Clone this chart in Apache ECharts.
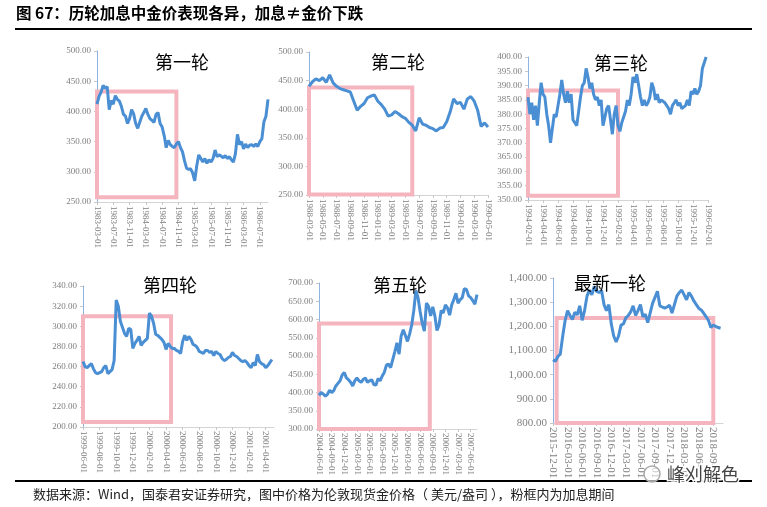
<!DOCTYPE html>
<html><head><meta charset="utf-8">
<script src="https://cdn.jsdelivr.net/npm/echarts@6/dist/echarts.min.js"></script>
<style>html,body{margin:0;padding:0;background:#fff}#c{width:767px;height:507px}</style>
</head><body><div id="c"></div>
<script>
// ---------- tick labels (x = months since first label) ----------
const ticks1 = ['1983-03-01','1983-07-01','1983-11-01','1984-03-01','1984-07-01','1984-11-01','1985-03-01','1985-07-01','1985-11-01','1986-03-01','1986-07-01'];
const ticks2 = ['1988-03-01','1988-05-01','1988-07-01','1988-09-01','1988-11-01','1989-01-01','1989-03-01','1989-05-01','1989-07-01','1989-09-01','1989-11-01','1990-01-01','1990-03-01','1990-05-01'];
const ticks3 = ['1994-02-01','1994-04-01','1994-06-01','1994-08-01','1994-10-01','1994-12-01','1995-02-01','1995-04-01','1995-06-01','1995-08-01','1995-10-01','1995-12-01','1996-02-01'];
const ticks4 = ['1999-06-01','1999-08-01','1999-10-01','1999-12-01','2000-02-01','2000-04-01','2000-06-01','2000-08-01','2000-10-01','2000-12-01','2001-02-01','2001-04-01'];
const ticks5 = ['2004-06-01','2004-09-01','2004-12-01','2005-03-01','2005-06-01','2005-09-01','2005-12-01','2006-03-01','2006-06-01','2006-09-01','2006-12-01','2007-03-01','2007-06-01'];
const ticks6 = ['2015-12-01','2016-03-01','2016-06-01','2016-09-01','2016-12-01','2017-03-01','2017-06-01','2017-09-01','2017-12-01','2018-03-01','2018-06-01','2018-09-01'];
const tickMonths = [4, 2, 2, 2, 3, 3];

// ---------- gold price (USD/oz), sampled every `step` months ----------
const step1 = 0.5;
const gold1 = [412,425,432,443,438,441,403,418,412,426,420,417,408,395,392,380,388,403,396,380,372,382,392,398,405,395,388,385,382,395,398,380,374,360,340,352,345,342,340,346,350,340,333,318,306,304,305,298,285,310,328,322,316,322,314,320,316,322,336,325,328,326,323,327,322,325,320,316,330,362,345,350,338,346,340,344,345,342,346,342,350,355,383,392,420];
const step2 = 0.5;
const gold2 = [440,448,453,450,455,447,460,446,440,436,434,432,430,414,398,405,410,420,423,425,414,408,400,388,390,396,392,387,384,377,372,362,385,374,372,368,366,362,367,368,378,395,418,410,412,400,418,422,414,398,370,376,369];
const step3 = 0.25;
const gold3 = [386,380,384,378,383,376,384,391,387,386,380,376,370,375,380,379,383,387,392,387,384,388,384,387,378,377,376,381,386,390,391,396,393,389,391,387,385,386,383,385,376,379,382,383,378,373,380,383,376,374,377,379,381,385,383,387,393,391,394,390,386,383,385,383,384,386,391,389,385,387,384,385,385,384,383,382,380,383,384,385,383,384,382,382,383,385,383,388,387,389,387,388,390,396,398,400];
const step4 = 0.25;
const gold4 = [265,260,259,261,263,258,254,253,254,255,259,261,253,255,257,266,326,320,305,299,293,290,298,297,278,283,286,290,281,284,286,288,313,310,303,292,291,289,287,284,277,283,280,278,278,276,275,273,285,291,286,290,287,282,281,279,275,274,273,276,276,274,275,271,275,273,272,268,266,267,269,270,274,271,270,268,266,265,266,264,261,259,264,261,272,265,263,262,259,261,264,267];
const step5 = 0.5;
const gold5 = [392,400,396,390,395,406,400,405,418,425,432,448,455,440,435,428,418,432,440,432,428,436,440,428,432,435,422,420,438,432,445,455,475,478,468,490,512,536,505,555,572,556,540,560,585,625,680,660,622,590,568,645,636,610,635,610,570,585,625,618,640,632,612,640,655,672,645,654,660,685,682,665,660,652,642,668];
const step6 = 0.5;
const gold6 = [1062,1055,1075,1085,1160,1225,1265,1245,1228,1258,1248,1285,1225,1265,1325,1350,1330,1365,1345,1340,1348,1290,1265,1290,1210,1160,1135,1160,1205,1210,1235,1245,1260,1285,1245,1265,1290,1240,1250,1215,1255,1295,1320,1345,1285,1280,1275,1280,1288,1255,1290,1325,1340,1350,1330,1310,1340,1325,1305,1290,1275,1268,1255,1240,1225,1195,1205,1200,1195,1192];

// ---------- rate-hike windows [startMonth, endMonth, low, high] ----------
const hike1 = [0, 19.5, 258, 433];
const hike2 = [0, 15, 251, 438];
const hike3 = [0, 12, 351.5, 388.3];
const hike4 = [0, 10.6, 205, 310];
const hike5 = [0, 26.3, 300, 589];
const hike6 = [0.75, 33, 800, 1235];

// ---------- y-axis ranges [min, max, interval] ----------
const yr1 = [250, 500, 50], yr2 = [250, 500, 50], yr3 = [350, 400, 5];
const yr4 = [200, 340, 20], yr5 = [300, 700, 50], yr6 = [800, 1400, 100];

const panelTitles = ['第一轮','第二轮','第三轮','第四轮','第五轮','最新一轮'];

// ---------- layout ----------
const layout = [
  {left:97, top:51, width:171, height:151, xmax:42, fs:9, tx:182, ty:62},
  {left:309, top:52, width:179, height:143, xmax:26, fs:9, tx:398, ty:62},
  {left:528, top:57, width:180, height:143, xmax:24, fs:9, tx:621, ty:63},
  {left:83, top:286, width:191, height:141, xmax:23, fs:9, tx:170, ty:285},
  {left:319, top:283, width:158, height:146, xmax:37.5, fs:9, tx:400, ty:285},
  {left:553, top:278, width:170, height:145, xmax:35, fs:11, tx:610, ty:283}
];

const ticksAll = [ticks1, ticks2, ticks3, ticks4, ticks5, ticks6];
const goldAll = [gold1, gold2, gold3, gold4, gold5, gold6];
const stepAll = [step1, step2, step3, step4, step5, step6];
const hikeAll = [hike1, hike2, hike3, hike4, hike5, hike6];
const yrAll = [yr1, yr2, yr3, yr4, yr5, yr6];

const LINE = '#4a8ed3', PINK = '#f5b5bf', LABEL = '#7f7f7f';
const grid = [], xAxis = [], yAxis = [], series = [], graphic = [];

layout.forEach((L, i) => {
  const tk = ticksAll[i], tm = tickMonths[i];
  const tickVals = tk.map((_, k) => k * tm);
  grid.push({left: L.left, top: L.top, width: L.width, height: L.height, containLabel: false, outerBoundsMode: 'none'});
  xAxis.push({
    type: 'value', gridIndex: i, min: 0, max: L.xmax, interval: tm,
    splitLine: {show: false},
    axisLine: {show: true, lineStyle: {color: '#d4d4d4', width: 1}},
    axisTick: {show: true, length: 3, customValues: tickVals, lineStyle: {color: '#c8c8c8'}},
    axisLabel: {
      show: true, rotate: -90, margin: 4, customValues: tickVals,
      fontFamily: 'Liberation Serif', fontSize: L.fs, color: LABEL,
      formatter: v => tk[Math.round(v / tm)] || ''
    }
  });
  const yr = yrAll[i];
  yAxis.push({
    type: 'value', gridIndex: i, min: yr[0], max: yr[1], interval: yr[2],
    splitLine: {show: false},
    axisLine: {show: true, lineStyle: {color: '#8fb3df', width: 1}},
    axisTick: {show: true, length: 3, lineStyle: {color: '#c8c8c8'}},
    axisLabel: {
      margin: 6, fontFamily: 'Liberation Serif', fontSize: L.fs, color: LABEL,
      formatter: v => v.toLocaleString('en-US', {minimumFractionDigits: 2, maximumFractionDigits: 2})
    }
  });
  const h = hikeAll[i];
  series.push({
    type: 'line', xAxisIndex: i, yAxisIndex: i, showSymbol: false, clip: false,
    lineStyle: {color: LINE, width: 3}, itemStyle: {color: LINE},
    data: goldAll[i].map((v, k) => [k * stepAll[i], v]),
    markArea: {
      silent: true,
      itemStyle: {color: 'rgba(0,0,0,0)', borderColor: PINK, borderWidth: 4},
      data: [[{xAxis: h[0], yAxis: h[2]}, {xAxis: h[1], yAxis: h[3]}]]
    },
    z: 3
  });
  graphic.push({
    type: 'text', x: L.tx, y: L.ty, z: 50,
    style: {text: panelTitles[i], fill: '#000', font: '18px "Noto Sans CJK SC"', textAlign: 'center', textVerticalAlign: 'middle'}
  });
});

// header / footer
graphic.push({type: 'text', x: 16, y: 13, z: 50,
  style: {text: '图 67：历轮加息中金价表现各异，加息≠金价下跌', fill: '#000', font: 'bold 15.5px "Noto Sans CJK SC"', textVerticalAlign: 'middle'}});
graphic.push({type: 'line', z: 50, shape: {x1: 15, y1: 29, x2: 752, y2: 29}, style: {stroke: '#000', lineWidth: 2}});
graphic.push({type: 'rect', z: 100, shape: {x: 0, y: 481, width: 767, height: 26}, style: {fill: '#fff'}});
graphic.push({type: 'line', z: 101, shape: {x1: 15, y1: 481, x2: 752, y2: 481}, style: {stroke: '#000', lineWidth: 2}});
graphic.push({type: 'text', x: 33, y: 494, z: 101,
  style: {text: '数据来源：Wind，国泰君安证券研究，图中价格为伦敦现货金价格（ 美元/盎司 ），粉框内为加息期间', fill: '#222', font: '13px "Noto Sans CJK SC"', textVerticalAlign: 'middle'}});
graphic.push({type: 'circle', z: 102, shape: {cx: 652, cy: 474, r: 8}, style: {fill: 'rgba(255,255,255,0.6)', stroke: '#aaa', lineWidth: 1.5}});
graphic.push({type: 'text', x: 667, y: 474, z: 102,
  style: {text: '峰刈解色', fill: '#444', font: '18px "Noto Sans CJK SC"', textVerticalAlign: 'middle', stroke: '#fff', lineWidth: 3}});

const chart = echarts.init(document.getElementById('c'), null, {renderer: 'canvas'});
chart.setOption({
  animation: false, backgroundColor: '#fff',
  grid, xAxis, yAxis, series, graphic
});
</script></body></html>
